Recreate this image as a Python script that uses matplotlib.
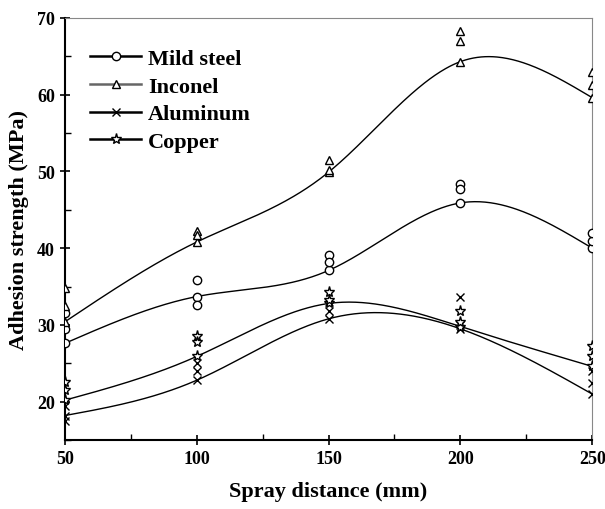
import numpy as np
import matplotlib
matplotlib.use("Agg")
import matplotlib.pyplot as plt
from matplotlib.ticker import MultipleLocator

plt.rcParams['font.family'] = ['Liberation Serif', 'DejaVu Serif']
plt.rcParams['font.weight'] = 'bold'

distance = [50, 100, 150, 200, 250]

# value the fitted curve goes through (the replicate sitting on the curve)
mild_fit = [27.6, 33.7, 37.1, 45.9, 40.0]
inconel_fit = [30.4, 40.8, 49.9, 64.3, 59.6]
alum_fit = [18.2, 22.8, 30.8, 29.5, 21.0]
copper_fit = [20.2, 25.9, 32.8, 29.8, 24.6]

# other replicate measurements
mild_reps = [[29.5, 31.5], [35.8, 32.6], [39.1, 38.2], [48.4, 47.7], [41.0, 42.0]]
inconel_reps = [[32.5, 34.8], [42.2, 41.7], [51.5, 50.2], [68.3, 67.0], [61.3, 63.0]]
alum_reps = [[17.5, 19.5], [25.0, 24.0], [33.0, 31.8], [33.7, 30.0], [22.5, 24.0]]
copper_reps = [[21.5, 22.6], [28.5, 27.8], [34.3, 33.3], [31.8, 30.4], [26.0, 27.2]]

labels = ["Mild steel", "Inconel", "Aluminum", "Copper"]
markers = ['o', '^', 'x', '*']
colors = ['black', '#666666', 'black', 'black']
fits = [mild_fit, inconel_fit, alum_fit, copper_fit]
reps = [mild_reps, inconel_reps, alum_reps, copper_reps]


def natural_spline(x, y, xs):
    x = np.asarray(x, float)
    y = np.asarray(y, float)
    n = len(x)
    h = np.diff(x)
    A = np.zeros((n, n))
    b = np.zeros(n)
    A[0, 0] = 1
    A[-1, -1] = 1
    for i in range(1, n - 1):
        A[i, i - 1] = h[i - 1]
        A[i, i] = 2 * (h[i - 1] + h[i])
        A[i, i + 1] = h[i]
        b[i] = 6 * ((y[i + 1] - y[i]) / h[i] - (y[i] - y[i - 1]) / h[i - 1])
    M = np.linalg.solve(A, b)
    idx = np.clip(np.searchsorted(x, xs) - 1, 0, n - 2)
    x0, x1 = x[idx], x[idx + 1]
    hh = x1 - x0
    t0, t1 = xs - x0, x1 - xs
    return (M[idx] * t1**3 / (6 * hh) + M[idx + 1] * t0**3 / (6 * hh)
            + (y[idx] / hh - M[idx] * hh / 6) * t1
            + (y[idx + 1] / hh - M[idx + 1] * hh / 6) * t0)


fig = plt.figure(figsize=(6.05, 5.10), dpi=100)
ax = fig.add_axes([0.107, 0.135, 0.872, 0.828])

xs = np.linspace(50, 250, 400)
for lab, mk, col, fit, rep in zip(labels, markers, colors, fits, reps):
    ax.plot(xs, natural_spline(distance, fit, xs), color='black', lw=1.0, zorder=2)
    rx = [d for d, r in zip(distance, rep) for _ in r]
    ry = [v for r in rep for v in r]
    ms = 8 if mk == '*' else 6
    ax.plot(distance, fit, ls='none', marker=mk, ms=ms, mfc='white',
            mec='black', mew=1.0, zorder=3)
    ax.plot(rx, ry, ls='none', marker=mk, ms=ms, mfc='white',
            mec='black', mew=1.0, zorder=3)
    # legend handle
    ax.plot([], [], color=col, lw=1.8, marker=mk, ms=ms, mfc='white',
            mec='black', mew=1.0, label=lab)

ax.set_xlim(50, 250)
ax.set_ylim(15, 70)
ax.xaxis.set_major_locator(MultipleLocator(50))
ax.xaxis.set_minor_locator(MultipleLocator(25))
ax.yaxis.set_major_locator(MultipleLocator(10))
ax.yaxis.set_minor_locator(MultipleLocator(5))
ax.tick_params(which='major', direction='inout', length=7, width=1.2, labelsize=13)
ax.tick_params(which='minor', direction='in', length=4, width=1.0)
for lbl in ax.get_xticklabels() + ax.get_yticklabels():
    lbl.set_fontweight('bold')

ax.spines['left'].set_linewidth(1.5)
ax.spines['bottom'].set_linewidth(1.5)
ax.spines['top'].set_color('#888888')
ax.spines['right'].set_color('#888888')

ax.set_xlabel("Spray distance (mm)", fontsize=16, fontweight='bold', labelpad=10)
ax.set_ylabel("Adhesion strength (MPa)", fontsize=16, fontweight='bold', labelpad=6)

leg = ax.legend(loc='upper left', bbox_to_anchor=(0.01, 0.975), frameon=False,
                fontsize=16, handlelength=2.3, labelspacing=0.32, handletextpad=0.3)
for t in leg.get_texts():
    t.set_fontweight('bold')

fig.savefig("out.png", dpi=100)
